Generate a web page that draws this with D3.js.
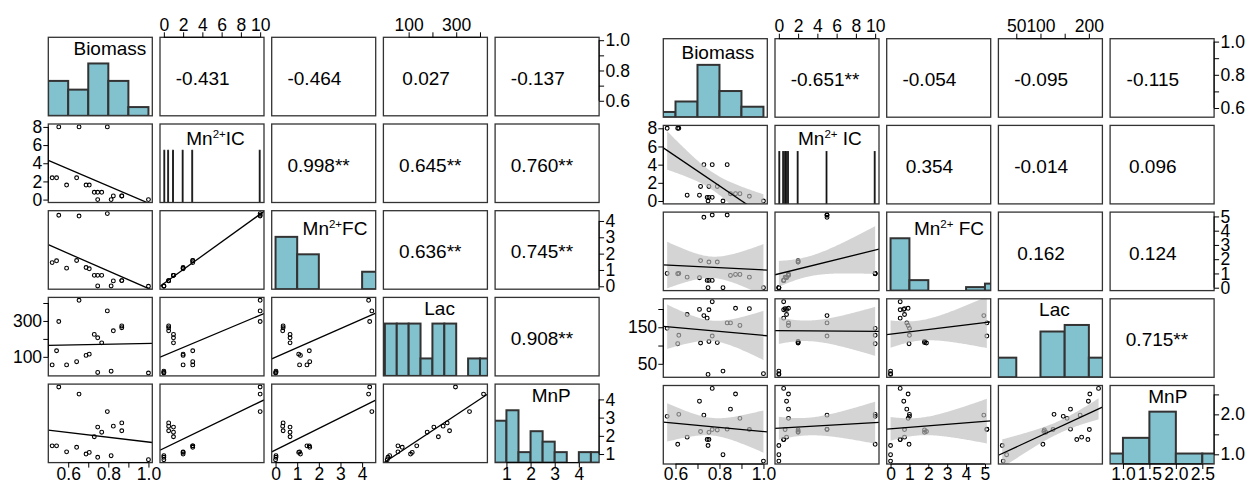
<!DOCTYPE html>
<html>
<head>
<meta charset="utf-8">
<script src="https://cdn.jsdelivr.net/npm/d3@7"></script>
<style>
  body { margin: 0; background: #fff; }
  svg { display: block; }
  text { font-family: "Liberation Sans", Arial, Helvetica, sans-serif; fill: #000; }
</style>
</head>
<body>
<svg id="chart" width="1252" height="484"></svg>
<script>
// ---- left matrix samples (set A) ----
var biomassA = [0.553, 0.654, 0.795, 0.520, 0.542, 0.592, 0.642, 0.689, 0.705, 0.730, 0.747, 0.767, 0.747, 0.814, 0.825, 0.867, 0.867, 1.000];
var mnicA    = [10, 10, 10, 3, 3, 2, 3, 2, 2, 1, 1, 1, 0, 0, 0.5, 0.5, 0.5, 0];
var mnfcA    = [4.35, 4.30, 4.45, 1.45, 1.56, 1.11, 1.58, 1.15, 1.07, 0.67, 0.67, 0.67, 0.02, 0.02, 0.33, 0.35, 0.35, 0.00];
var lacA     = [297, 415, 356, 55, 134, 55, 73, 108, 115, 225, 206, 178, 13, 20, 245, 272, 262, 10];
var mnpA     = [4.68, 4.29, 3.33, 1.45, 1.45, 1.12, 1.37, 1.00, 1.09, 1.95, 2.48, 2.20, 0.82, 0.91, 2.53, 2.28, 2.71, 0.69];
// upper triangle, row by row: (1,2)(1,3)(1,4)(1,5)(2,3)(2,4)(2,5)(3,4)(3,5)(4,5)
var corrA = ["-0.431", "-0.464", "0.027", "-0.137", "0.998**", "0.645**", "0.760**", "0.636**", "0.745**", "0.908**"];

// ---- right matrix samples (set B) ----
var biomassB = [0.562, 0.615, 0.610, 0.729, 0.767, 0.835, 0.714, 0.752, 0.790, 0.653, 0.709, 0.744, 0.752, 0.767, 0.850, 0.873, 0.893, 0.936, 0.748, 0.816, 1.000];
var mnicB    = [10, 10, 10, 5, 5, 5, 2, 2, 2, 0.8, 0.8, 0.5, 0.5, 0.5, 1, 1, 1, 0.65, 0, 0, 0];
var mnfcB    = [1.00, 1.00, 0.98, 4.94, 5.10, 5.10, 1.90, 1.80, 1.80, 0.74, 0.70, 0.51, 0.51, 0.51, 0.86, 0.93, 0.93, 0.74, 0, 0, 0];
var lacB     = [147, 128, 105, 182, 126, 162, 107, 111, 108, 185, 199, 175, 198, 220, 162, 202, 155, 201, 21, 30, 23];
var mnpB     = [1.95, 2.00, 1.25, 1.98, 1.62, 1.63, 1.57, 1.55, 1.61, 1.43, 2.33, 1.37, 1.37, 2.65, 2.13, 2.51, 1.90, 1.62, 1.22, 0.99, 0.83];
var corrB = ["-0.651**", "-0.054", "-0.095", "-0.115", "0.354", "-0.014", "0.096", "0.162", "0.124", "0.715**"];

// ---- tick values / labels ----
var ticksBiomass = [0.6, 0.7, 0.8, 0.9, 1.0], labBiomass = [0.6, 0.8, 1.0];
var ticksMnICcol = [0, 2, 4, 6, 8, 10];
var ticksMnICrow = [0, 2, 4, 6, 8];
var ticksMnFCA = [0, 1, 2, 3, 4];
var ticksMnFCB = [0, 1, 2, 3, 4, 5];
var ticksLacA = [100, 200, 300, 400], labLacAcol = [100, 300], labLacArow = [100, 300];
var ticksLacB = [50, 100, 150, 200], labLacBcol = [50, 100, 200], labLacBrow = [50, 150];
var ticksMnPA = [1, 2, 3, 4];
var ticksMnPB = [1.0, 1.5, 2.0, 2.5], labMnPBcol = [1.0, 1.5, 2.0, 2.5], labMnPBrow = [1.0, 2.0];

// ---- histogram breaks ----
var breaksBiomass = [0.5, 0.6, 0.7, 0.8, 0.9, 1.0];
var breaksMnFCA = [0, 1, 2, 3, 4, 5];
var breaksMnFCB = [0, 1, 2, 3, 4, 5, 6];
var breaksLacA = [0, 50, 100, 150, 200, 250, 300, 350, 400, 450];
var breaksLacB = [0, 50, 100, 150, 200, 250];
var breaksMnPA = [0.5, 1, 1.5, 2, 2.5, 3, 3.5, 4, 4.5, 5];
var breaksMnPB = [0.5, 1, 1.5, 2, 2.5, 3];
var breaksMnIC = d3.range(0, 101).map(function(k){ return k / 10; }); // narrow 0.1 bins, drawn as a strip

var namesA = [["Biomass"], ["Mn", "2+", "IC"], ["Mn", "2+", "FC"], ["Lac"], ["MnP"]];
var namesB = [["Biomass"], ["Mn", "2+", " IC"], ["Mn", "2+", " FC"], ["Lac"], ["MnP"]];

// layout
var PW = 104, PH = 78.5, SX = 111.7, SY = 86.7;
var FS_AXIS = "17.5px", FS_TEXT = "19px";
var HIST_FILL = "#82c2cf", EDGE = "#333333";
var BOTTOM_BASE = 480.2; // baseline of the bottom tick labels

var svg = d3.select("#chart");
var f1 = d3.format(".1f"), fint = d3.format("d");

function pad4(ext) {
  var r = ext[1] - ext[0];
  return [ext[0] - 0.04 * r, ext[1] + 0.04 * r];
}

function histCounts(vals, br) {
  return br.slice(0, -1).map(function(lo, b) {
    var hi = br[b + 1];
    return vals.filter(function(v) { return (b === 0 ? v >= lo : v > lo + 1e-9) && v <= hi + 1e-9; }).length;
  });
}

function linfit(x, y) {
  var n = x.length, mx = d3.mean(x), my = d3.mean(y);
  var sxx = d3.sum(x, function(v){ return (v - mx) * (v - mx); });
  var sxy = d3.sum(x, function(v, i){ return (v - mx) * (y[i] - my); });
  var b = sxy / sxx, a = my - b * mx;
  var sse = d3.sum(x, function(v, i){ var e = y[i] - a - b * v; return e * e; });
  return {a: a, b: b, n: n, mx: mx, sxx: sxx, s: Math.sqrt(sse / (n - 2))};
}

function inList(list, d) {
  return list.some(function(l){ return Math.abs(l - d) < 1e-9; });
}

function drawMatrix(spec) {
  var g = svg.append("g");
  var vars = spec.vars, k = vars.length, n = vars[0].length;
  var xs = [], ys = [];
  vars.forEach(function(vals, v) {
    var ext = pad4(d3.extent(vals));
    var L = spec.x0 + v * SX, T = spec.y0 + v * SY;
    xs.push(d3.scaleLinear().domain(ext).range([L, L + PW]));
    ys.push(d3.scaleLinear().domain(ext).range([T + PH, T]));
  });

  var ci = 0;
  for (var i = 0; i < k; i++) {
    for (var j = 0; j < k; j++) {
      var L = spec.x0 + j * SX, T = spec.y0 + i * SY;
      var id = spec.id + "c" + i + j;
      g.append("clipPath").attr("id", id).append("rect")
        .attr("x", L).attr("y", T).attr("width", PW).attr("height", PH);
      var p = g.append("g").attr("clip-path", "url(#" + id + ")");

      if (i === j) {
        // histogram on the diagonal (strip of occupied values for Mn2+ IC)
        var br = spec.breaks[i];
        var strip = i === 1;
        var counts = histCounts(vars[i], br);
        if (strip) counts = counts.map(function(c){ return c > 0 ? 1 : 0; });
        var hy = d3.scaleLinear().domain([0, 1.5 * d3.max(counts)]).range([T + PH, T]);
        var bars = br.slice(0, -1).map(function(lo, b){ return {lo: lo, hi: br[b + 1], c: counts[b]}; })
          .filter(function(d){ return d.c > 0; });
        p.selectAll("rect.bar").data(bars).join("rect").attr("class", "bar")
          .attr("x", function(d){ return xs[j](d.lo); })
          .attr("width", function(d){ return xs[j](d.hi) - xs[j](d.lo); })
          .attr("y", function(d){ return hy(d.c); })
          .attr("height", function(d){ return hy(0) - hy(d.c); })
          .attr("fill", strip ? "#111" : HIST_FILL)
          .attr("stroke", strip ? "#111" : EDGE)
          .attr("stroke-width", strip ? 0.8 : 2);

        var parts = spec.names[i];
        var lab = g.append("text")
          .attr("x", L + PW / 2 + spec.labDx[i]).attr("y", T + spec.labDy[i])
          .attr("text-anchor", "middle").style("font-size", FS_TEXT);
        lab.append("tspan").text(parts[0]);
        if (parts.length > 1) {
          lab.append("tspan").attr("dy", -7).style("font-size", "11.5px").text(parts[1]);
          lab.append("tspan").attr("dy", 7).text(parts[2]);
        }
      } else if (i > j) {
        // scatter with least squares line
        var xv = vars[j], yv = vars[i];
        var fit = linfit(xv, yv);
        p.selectAll("circle").data(d3.range(n)).join("circle")
          .attr("cx", function(s){ return xs[j](xv[s]); })
          .attr("cy", function(s){ return ys[i](yv[s]); })
          .attr("r", 1.9).attr("fill", "none").attr("stroke", "#000").attr("stroke-width", 1.1);
        if (spec.band) {
          var ext = d3.extent(xv), gx = ext[0], gw = ext[1] - ext[0];
          var grid = d3.range(81).map(function(t){ return gx + gw * t / 80; });
          var half = function(x){ return spec.tq * fit.s * Math.sqrt(1 / fit.n + (x - fit.mx) * (x - fit.mx) / fit.sxx); };
          var area = d3.area()
            .x(function(x){ return xs[j](x); })
            .y0(function(x){ return ys[i](fit.a + fit.b * x - half(x)); })
            .y1(function(x){ return ys[i](fit.a + fit.b * x + half(x)); });
          p.append("path").attr("d", area(grid)).attr("fill", "#bdbdbd").attr("fill-opacity", 0.65);
        }
        var dx = xs[j].domain();
        p.append("line")
          .attr("x1", xs[j](dx[0])).attr("y1", ys[i](fit.a + fit.b * dx[0]))
          .attr("x2", xs[j](dx[1])).attr("y2", ys[i](fit.a + fit.b * dx[1]))
          .attr("stroke", "#000").attr("stroke-width", 1.3);
      } else {
        // correlation coefficient
        var txt = spec.corr[ci++];
        var star = txt.indexOf("*") >= 0;
        g.append("text")
          .attr("x", star ? L + 15.7 : L + 42.7).attr("y", T + 47.5)
          .attr("text-anchor", star ? "start" : "middle")
          .style("font-size", FS_TEXT).text(txt);
      }
      g.append("rect").attr("x", L).attr("y", T).attr("width", PW).attr("height", PH)
        .attr("fill", "none").attr("stroke", EDGE).attr("stroke-width", 1.3);
    }
  }

  // axes, R pairs style (alternating sides)
  function styleAxis(sel, sc, ticks, vertical) {
    sel.select(".domain").remove();
    sel.selectAll(".tick line").attr("stroke", "#000").attr("stroke-width", 1);
    sel.selectAll(".tick text").style("font-size", FS_AXIS).attr("fill", "#000");
    var a = sc(ticks[0]), b = sc(ticks[ticks.length - 1]);
    sel.append("line").attr("stroke", "#000").attr("stroke-width", 1)
      .attr(vertical ? "y1" : "x1", a).attr(vertical ? "y2" : "x2", b)
      .attr(vertical ? "x1" : "y1", 0).attr(vertical ? "x2" : "y2", 0);
  }
  var fmtC = function(lbls, fm){ return function(d){ return inList(lbls, d) ? fm(d) : ""; }; };
  var yBottom = spec.y0 + 4 * SY + PH;
  for (var v = 0; v < k; v++) {
    var ax = spec.axes[v];
    if (v % 2 === 1) {
      var top = g.append("g").attr("transform", "translate(0," + spec.y0 + ")");
      top.call(d3.axisTop(xs[v]).tickValues(ax.colTicks).tickSize(5).tickPadding(1.6)
        .tickFormat(fmtC(ax.colLabels, ax.colFmt)));
      styleAxis(top, xs[v], ax.colTicks, false);
      var rowSc = ys[v];
      if (ax.rowExtent) rowSc = d3.scaleLinear().domain(pad4(ax.rowExtent)).range(ys[v].range());
      var left = g.append("g").attr("transform", "translate(" + spec.x0 + ",0)");
      left.call(d3.axisLeft(rowSc).tickValues(ax.rowTicks).tickSize(5).tickPadding(1.2)
        .tickFormat(fmtC(ax.rowLabels, ax.rowFmt)));
      styleAxis(left, rowSc, ax.rowTicks, true);
    } else {
      var bottom = g.append("g").attr("transform", "translate(0," + yBottom + ")");
      bottom.call(d3.axisBottom(xs[v]).tickValues(ax.colTicks).tickSize(5)
        .tickPadding(BOTTOM_BASE - yBottom - 5 - 0.71 * 17.5)
        .tickFormat(fmtC(ax.colLabels, ax.colFmt)));
      styleAxis(bottom, xs[v], ax.colTicks, false);
      var right = g.append("g").attr("transform", "translate(" + (spec.x0 + 4 * SX + PW) + ",0)");
      right.call(d3.axisRight(ys[v]).tickValues(ax.rowTicks).tickSize(5).tickPadding(1.5)
        .tickFormat(fmtC(ax.rowLabels, ax.rowFmt)));
      styleAxis(right, ys[v], ax.rowTicks, true);
    }
  }
}

drawMatrix({
  id: "A", x0: 48.3, y0: 37.3,
  vars: [biomassA, mnicA, mnfcA, lacA, mnpA],
  corr: corrA, names: namesA, band: false,
  labDx: [9.6, 3.5, 11.3, 4.2, 4.1], labDy: [17.7, 21, 24.3, 17.7, 17.7],
  breaks: [breaksBiomass, breaksMnIC, breaksMnFCA, breaksLacA, breaksMnPA],
  axes: [
    {colTicks: ticksBiomass, colLabels: labBiomass, colFmt: f1, rowTicks: ticksBiomass, rowLabels: labBiomass, rowFmt: f1},
    {colTicks: ticksMnICcol, colLabels: ticksMnICcol, colFmt: fint, rowTicks: ticksMnICrow, rowLabels: ticksMnICrow, rowFmt: fint, rowExtent: [0, 8]},
    {colTicks: ticksMnFCA, colLabels: ticksMnFCA, colFmt: fint, rowTicks: ticksMnFCA, rowLabels: ticksMnFCA, rowFmt: fint},
    {colTicks: ticksLacA, colLabels: labLacAcol, colFmt: fint, rowTicks: ticksLacA, rowLabels: labLacArow, rowFmt: fint},
    {colTicks: ticksMnPA, colLabels: ticksMnPA, colFmt: fint, rowTicks: ticksMnPA, rowLabels: ticksMnPA, rowFmt: fint}
  ]
});

drawMatrix({
  id: "B", x0: 663.3, y0: 38.7,
  vars: [biomassB, mnicB, mnfcB, lacB, mnpB],
  corr: corrB, names: namesB, band: true, tq: 2.093,
  labDx: [2.6, 2.9, 10.3, 4, 5.7], labDy: [20, 19.7, 23, 17.4, 17.3],
  breaks: [breaksBiomass, breaksMnIC, breaksMnFCB, breaksLacB, breaksMnPB],
  axes: [
    {colTicks: ticksBiomass, colLabels: labBiomass, colFmt: f1, rowTicks: ticksBiomass, rowLabels: labBiomass, rowFmt: f1},
    {colTicks: ticksMnICcol, colLabels: ticksMnICcol, colFmt: fint, rowTicks: ticksMnICrow, rowLabels: ticksMnICrow, rowFmt: fint, rowExtent: [0, 8]},
    {colTicks: ticksMnFCB, colLabels: ticksMnFCB, colFmt: fint, rowTicks: ticksMnFCB, rowLabels: ticksMnFCB, rowFmt: fint},
    {colTicks: ticksLacB, colLabels: labLacBcol, colFmt: fint, rowTicks: ticksLacB, rowLabels: labLacBrow, rowFmt: fint},
    {colTicks: ticksMnPB, colLabels: labMnPBcol, colFmt: f1, rowTicks: ticksMnPB, rowLabels: labMnPBrow, rowFmt: f1}
  ]
});
</script>
</body>
</html>
